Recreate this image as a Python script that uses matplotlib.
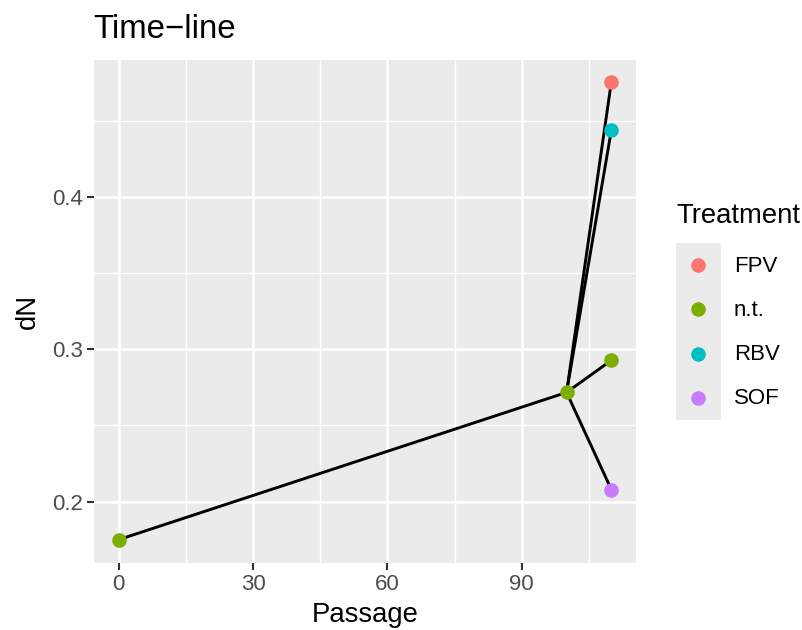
import matplotlib.pyplot as plt
from matplotlib.ticker import MultipleLocator

plt.rcParams['font.family'] = ['Liberation Sans', 'DejaVu Sans']

# data
passage = [0, 100, 110, 110, 110, 110]
dN = [0.175, 0.2717, 0.4757, 0.444, 0.2928, 0.2079]
treatment = ['n.t.', 'n.t.', 'FPV', 'RBV', 'n.t.', 'SOF']
parent = [None, 0, 1, 1, 1, 1]

levels = ['FPV', 'n.t.', 'RBV', 'SOF']
colors = {'FPV': '#F8766D', 'n.t.': '#7CAE00', 'RBV': '#00BFC4', 'SOF': '#C77CFF'}

fig = plt.figure(figsize=(8.03, 6.30), dpi=100)
W, H = 803, 630
ax = fig.add_axes([94 / W, 1 - 562.5 / H, (636 - 94) / W, (562.5 - 60) / H])
ax.set_facecolor('#EBEBEB')
for s in ax.spines.values():
    s.set_visible(False)

ax.xaxis.set_major_locator(MultipleLocator(30))
ax.xaxis.set_minor_locator(MultipleLocator(15))
ax.set_yticks([0.2, 0.3, 0.4])
ax.set_yticks([0.15, 0.25, 0.35, 0.45], minor=True)
ax.set_yticklabels(['0.2', '0.3', '0.4'])
ax.grid(which='major', color='white', lw=1.9)
ax.grid(which='minor', color='white', lw=1.0)
ax.set_axisbelow(True)
ax.tick_params(which='major', length=5, width=1.5, color='#333333',
               labelcolor='#4D4D4D', labelsize=16, pad=3)
ax.tick_params(which='minor', length=0)

for i, p in enumerate(parent):
    if p is None:
        continue
    ax.plot([passage[p], passage[i]], [dN[p], dN[i]], color='black', lw=2.1,
            solid_capstyle='butt', zorder=2)

for x, y, t in zip(passage, dN, treatment):
    ax.plot(x, y, 'o', color=colors[t], ms=10.5, mec='none', zorder=3)

ax.set_xlim(-5.5, 115.5)
ax.set_ylim(0.16, 0.49)

ax.set_xlabel('Passage', fontsize=19.8, labelpad=5)
ax.set_ylabel('dN', fontsize=19.8, labelpad=8)
fig.text(93 / W, 1 - 29 / H, 'Time\u2212line', fontsize=23.8, va='center', ha='left')

# legend
fig.text(676 / W, 1 - 216 / H, 'Treatment', fontsize=19.8, va='center', ha='left')
lax = fig.add_axes([676 / W, 1 - 420 / H, 45 / W, (420 - 243) / H])
lax.set_facecolor('#EBEBEB')
lax.set_xlim(0, 1)
lax.set_ylim(0, 4)
lax.set_xticks([])
lax.set_yticks([])
for s in lax.spines.values():
    s.set_visible(False)
for k, lev in enumerate(levels):
    yy = 3.5 - k
    lax.plot(0.5, yy, 'o', color=colors[lev], ms=10.5, mec='none')
    fig.text(734 / W, 1 - (266 + 44 * k) / H, lev, fontsize=16, va='center', ha='left')

fig.savefig('out.png', dpi=100)
